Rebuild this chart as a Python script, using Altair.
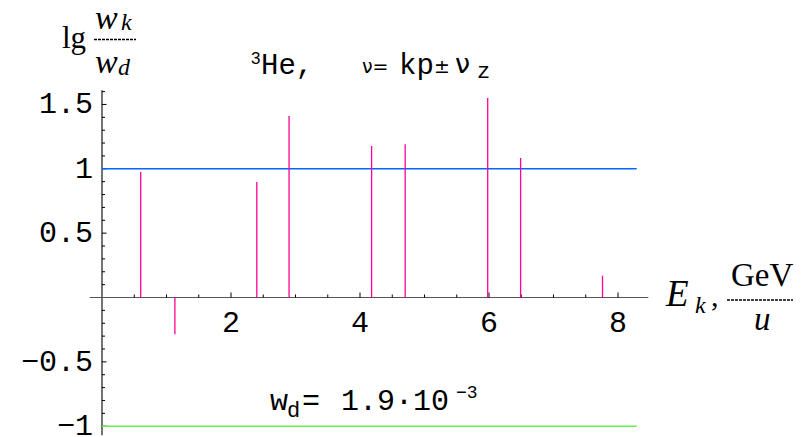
import altair as alt
import pandas as pd

# ---------------- data ----------------
E_k = [0.6, 1.13, 2.4, 2.9, 4.18, 4.7, 5.98, 6.49, 7.76]
lg_ratio = [0.975, -0.286, 0.897, 1.41, 1.177, 1.19, 1.55, 1.084, 0.17]

ref_levels = [1.0, -1.0]
ref_colors = ["#0066ff", "#66ee55"]
ref_x_end = 8.29

x_major = [2, 4, 6, 8]
x_labels = ["2", "4", "6", "8"]
x_minor = [0.5, 1.0, 1.5, 2.5, 3.0, 3.5, 4.5, 5.0, 5.5, 6.5, 7.0, 7.5]

y_major = [-1.0, -0.5, 0.5, 1.0, 1.5]
y_labels = ["\u22121", "\u22120.5", "0.5", "1", "1.5"]
y_minor = [-0.9, -0.8, -0.7, -0.6, -0.4, -0.3, -0.2, -0.1,
           0.1, 0.2, 0.3, 0.4, 0.6, 0.7, 0.8, 0.9,
           1.1, 1.2, 1.3, 1.4, 1.6]

x_axis_range = [-0.19, 8.47]
y_axis_range = [-1.07, 1.61]

# ---------------- layout ----------------
W, H = 806, 437
PX_X = 64.5      # pixels per unit along x
PX_Y = 128.7     # pixels per unit along y
X0_PX, Y0_PX = 102.0, 297.5
XMIN = -X0_PX / PX_X
XMAX = XMIN + W / PX_X
YMAX = Y0_PX / PX_Y
YMIN = YMAX - H / PX_Y

xs = alt.Scale(domain=[XMIN, XMAX], nice=False, zero=False)
ys = alt.Scale(domain=[YMIN, YMAX], nice=False, zero=False)


def X(f):
    return alt.X(f, type="quantitative", scale=xs, axis=None)


def Y(f):
    return alt.Y(f, type="quantitative", scale=ys, axis=None)


MONO = "Liberation Mono"
SERIF = "Liberation Serif"
layers = []

# axes lines
layers.append(
    alt.Chart(pd.DataFrame({"x": [0.0], "y": [y_axis_range[0]], "y2": [y_axis_range[1]]}))
    .mark_rule(color="black", strokeWidth=1.1)
    .encode(x=X("x"), y=Y("y"), y2="y2:Q")
)
layers.append(
    alt.Chart(pd.DataFrame({"x": [x_axis_range[0]], "x2": [x_axis_range[1]], "y": [0.0]}))
    .mark_rule(color="#555555", strokeWidth=1.1)
    .encode(x=X("x"), x2="x2:Q", y=Y("y"))
)

# x ticks (pointing up)
for vals, ln in ((x_minor, 3.0), (x_major, 5.0)):
    df = pd.DataFrame({"x": vals, "y": [0.0] * len(vals), "y2": [ln / PX_Y] * len(vals)})
    layers.append(
        alt.Chart(df).mark_rule(color="black", strokeWidth=1)
        .encode(x=X("x"), y=Y("y"), y2="y2:Q")
    )
# y ticks (pointing right)
for vals, ln in ((y_minor, 3.0), (y_major, 4.5)):
    df = pd.DataFrame({"y": vals, "x": [0.0] * len(vals), "x2": [ln / PX_X] * len(vals)})
    layers.append(
        alt.Chart(df).mark_rule(color="black", strokeWidth=1)
        .encode(x=X("x"), x2="x2:Q", y=Y("y"))
    )

# tick labels
layers.append(
    alt.Chart(pd.DataFrame({"x": x_major, "y": [0.0] * 4, "t": x_labels}))
    .mark_text(font=MONO, fontSize=30, align="center", baseline="alphabetic", dy=34, color="black")
    .encode(x=X("x"), y=Y("y"), text="t:N")
)
layers.append(
    alt.Chart(pd.DataFrame({"y": y_major, "t": y_labels}))
    .mark_text(font=MONO, fontSize=30, align="right", baseline="alphabetic", dy=9, color="black")
    .encode(x=alt.value(93), y=Y("y"), text="t:N")
)

# reference lines
layers.append(
    alt.Chart(pd.DataFrame({"y": ref_levels, "c": ref_colors,
                            "x": [0.0, 0.0], "x2": [ref_x_end, ref_x_end]}))
    .mark_rule(strokeWidth=1.4)
    .encode(x=X("x"), x2="x2:Q", y=Y("y"), color=alt.Color("c:N", scale=None))
)

# spikes
layers.append(
    alt.Chart(pd.DataFrame({"E": E_k, "v": lg_ratio, "z": [0.0] * len(E_k)}))
    .mark_rule(color="#ff0099", strokeWidth=1.3)
    .encode(x=X("E"), y=Y("v"), y2="z:Q")
)

# text annotations: (text, x px, baseline px, font, size, style)
notes = [
    ("lg", 62, 48, SERIF, 31, "normal"),
    ("w", 95, 29, SERIF, 34, "italic"),
    ("k", 121, 30, SERIF, 24, "italic"),
    ("w", 95, 73, SERIF, 34, "italic"),
    ("d", 118, 75, SERIF, 24, "italic"),
    ("3", 251, 64, "Liberation Sans", 17, "normal"),
    ("He,", 261, 74, MONO, 29, "normal"),
    ("\u03bd=", 362, 73, "DejaVu Sans", 19, "normal"),
    ("kp", 399, 74, MONO, 29, "normal"),
    ("\u00b1", 434, 73, "DejaVu Sans", 19, "normal"),
    ("\u03bd", 455, 73, "DejaVu Sans", 27, "normal"),
    ("z", 477, 78, MONO, 22, "normal"),
    ("w", 270, 410, MONO, 30, "normal"),
    ("d", 287, 417, MONO, 22, "normal"),
    ("=", 302, 410, MONO, 30, "normal"),
    ("1.9\u00b710", 341, 410, MONO, 30, "normal"),
    ("\u22123", 456, 398, MONO, 18, "normal"),
    ("E", 666, 306, SERIF, 37, "italic"),
    ("k", 695, 313, SERIF, 24, "italic"),
    (",", 711, 306, SERIF, 30, "normal"),
    ("GeV", 731, 286, SERIF, 33, "normal"),
    ("u", 754, 330, SERIF, 33, "italic"),
]
for t, px, py, fnt, fs, st in notes:
    layers.append(
        alt.Chart(pd.DataFrame({"t": [t]}))
        .mark_text(font=fnt, fontSize=fs, fontStyle=st, align="left",
                   baseline="alphabetic", color="black")
        .encode(x=alt.value(px), y=alt.value(py), text="t:N")
    )

# dashed fraction bars
for x1, x2, yy in ((94, 136, 39.5), (727, 793, 300)):
    layers.append(
        alt.Chart(pd.DataFrame({"a": [0]}))
        .mark_rule(color="black", strokeWidth=1.3, strokeDash=[3, 1])
        .encode(x=alt.value(x1), x2=alt.value(x2), y=alt.value(yy))
    )

chart = (
    alt.layer(*layers)
    .properties(width=W, height=H, padding=0, autosize=alt.AutoSizeParams(type="none"),
                background="white")
    .configure_view(stroke=None)
)

chart.save("out.html", embed_options={"renderer": "svg", "actions": False})
